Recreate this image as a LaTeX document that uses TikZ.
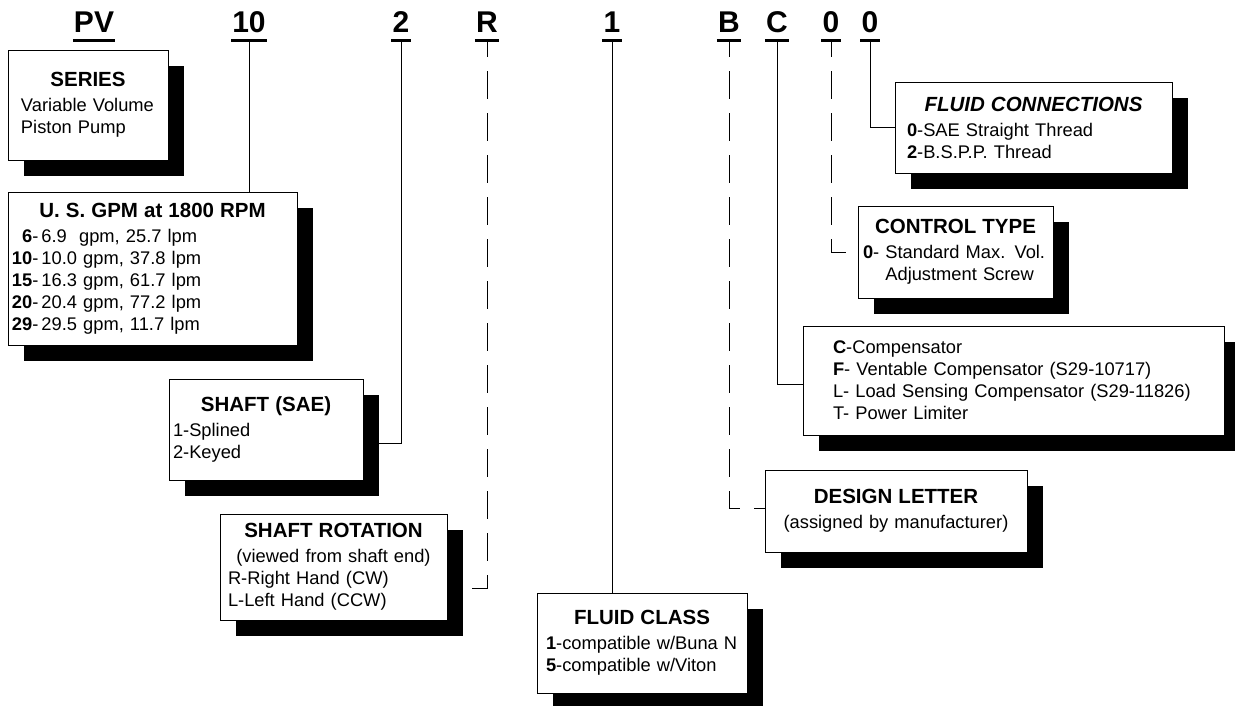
\documentclass[tikz,border=0pt]{standalone}
\usepackage{fontspec}
\setmainfont{Liberation Sans}
\usetikzlibrary{shadows,calc}
\newcommand{\codefont}{\fontsize{30}{32}\selectfont\bfseries}
\newcommand{\headfont}{\fontsize{20.5}{22}\selectfont\bfseries}
\newcommand{\bodyfont}{\fontsize{18.3}{22}\selectfont}
% centred line across the whole panel, whatever the left padding
\newcommand{\boxline}[1]{\hspace*{-\leftskip}\makebox[\linewidth]{#1}}
\newcommand{\boxhead}[1]{\boxline{\headfont #1}\\[3pt]}
\tikzset{
  % white panel with a solid black drop shadow
  panel/.style = {rectangle, draw, line width=1pt, fill=white, align=left,
                  inner xsep=4pt, inner ysep=0pt, font=\bodyfont,
                  drop shadow={shadow xshift=16pt, shadow yshift=-16pt, fill=black, opacity=1}},
  pad/.style   = {execute at begin node={\leftskip=#1\relax}},
  code/.style  = {font=\codefont, inner xsep=1pt, inner ysep=7pt, text depth=0pt, anchor=south},
  bar/.style   = {line width=3pt},
  lead/.style  = {line width=1pt},
  dlead/.style = {lead, dash pattern=on 28pt off 14pt, dash phase=11pt},
}

\begin{document}
\begin{tikzpicture}[x=1pt, y=-1pt]
\useasboundingbox (0,0) rectangle (1235,705);

% --- model code, underlined ------------------------------------------
\foreach \n/\t/\x in {cPV/PV/94, c10/10/249, c2/2/401, cR/R/487, c1/1/612,
                      cB/B/729, cC/C/777, c0a/0/831, c0b/0/870} {
  \node[code] (\n) at (\x,40) {\t};
  \draw[bar] (\n.south west) -- (\n.south east);
}

% --- panels -----------------------------------------------------------
\node[panel, pad=9pt, text width=152pt, minimum height=110pt] (series) at (88,105)
  {\boxhead{SERIES}Variable Volume\\Piston Pump};
\node[panel, text width=281pt, minimum height=153pt] (gpm) at (152.5,268.5)
  {\boxhead{U. S. GPM at 1800 RPM}%
   \hphantom{\textbf{1}}\textbf{6}-\,6.9\ \ gpm, 25.7 lpm\\
   \textbf{10}-\,10.0 gpm, 37.8 lpm\\
   \textbf{15}-\,16.3 gpm, 61.7 lpm\\
   \textbf{20}-\,20.4 gpm, 77.2 lpm\\
   \textbf{29}-\,29.5 gpm, 11.7 lpm};
\node[panel, text width=186pt, minimum height=101pt] (shaft) at (266,429.5)
  {\boxhead{SHAFT (SAE)}1-Splined\\2-Keyed};
\node[panel, pad=4pt, text width=219pt, minimum height=106pt] (shaftrot) at (333.5,567)
  {\boxhead{SHAFT ROTATION}\boxline{(viewed from shaft end)}\\
   R-Right Hand (CW)\\L-Left Hand (CCW)};
\node[panel, pad=5pt, text width=202pt, minimum height=100pt] (fluidcls) at (642,643)
  {\boxhead{FLUID CLASS}\textbf{1}-compatible w/Buna N\\\textbf{5}-compatible w/Viton};
\node[panel, text width=254pt, minimum height=82pt] (design) at (896,511)
  {\boxhead{DESIGN LETTER}\boxline{(assigned by manufacturer)}};
\node[panel, pad=26pt, text width=413pt, minimum height=109pt] (ctrlopt) at (1013.5,380.5)
  {\textbf{C}-Compensator\\
   \textbf{F}- Ventable Compensator (S29-10717)\\
   L- Load Sensing Compensator (S29-11826)\\
   T- Power Limiter};
\node[panel, pad=1pt, text width=187pt, minimum height=92pt] (ctrltype) at (955.5,252)
  {\boxhead{CONTROL TYPE}\textbf{0}- Standard Max. Vol.\\\hphantom{\textbf{0}- }Adjustment Screw};
\node[panel, pad=8pt, text width=269pt, minimum height=91pt] (fluidconn) at (1033.5,127.5)
  {\boxhead{\itshape FLUID CONNECTIONS}\textbf{0}-SAE Straight Thread\\\textbf{2}-B.S.P.P. Thread};

% --- leaders ----------------------------------------------------------
\draw[lead]  (c10.south) -- (c10.south |- gpm.north);
\draw[lead]  (c2.south)  |- ([yshift=-13.5pt]shaft.east);
\draw[dlead] (cR.south)  |- ([yshift=-21pt]shaftrot.east);
\draw[lead]  (c1.south)  -- (c1.south |- fluidcls.north);
\draw[dlead] (cB.south)  |- ([yshift=3pt]design.west);
\draw[lead]  (cC.south)  |- ([yshift=-4pt]ctrlopt.west);
\draw[dlead] (c0a.south) |- (ctrltype.west);
\draw[lead]  (c0b.south) |- (fluidconn.west);
\end{tikzpicture}
\end{document}
